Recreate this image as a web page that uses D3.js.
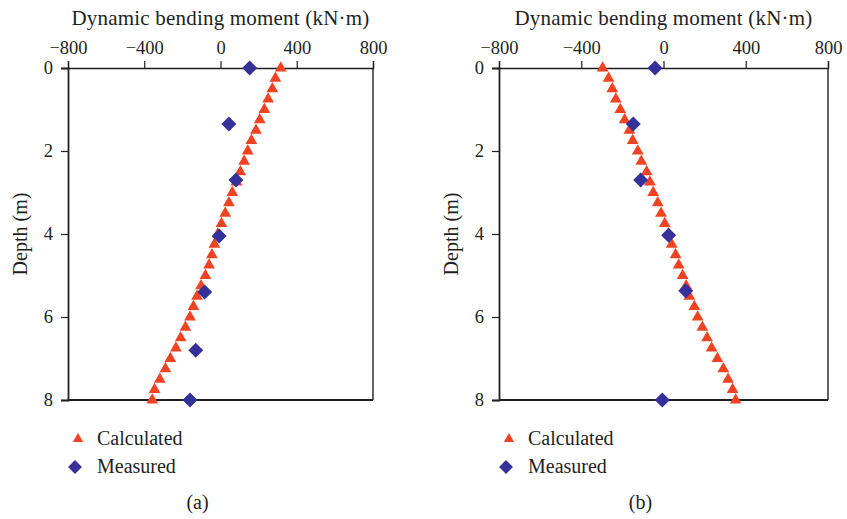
<!DOCTYPE html>
<html>
<head>
<meta charset="utf-8">
<script src="https://cdn.jsdelivr.net/npm/d3@7/dist/d3.min.js"></script>
<style>
  html, body { margin: 0; padding: 0; background: #fff; }
  svg text { font-family: "Liberation Serif", "Times New Roman", serif; fill: #231f20; }
</style>
</head>
<body>
<svg id="chart" width="847" height="519"></svg>
<script>
// Depth stations (m) of the calculated profile, every 0.25 m from 0 to 8
const calcDepth = [0, 0.25, 0.5, 0.75, 1, 1.25, 1.5, 1.75, 2, 2.25, 2.5, 2.75, 3, 3.25, 3.5, 3.75,
  4, 4.25, 4.5, 4.75, 5, 5.25, 5.5, 5.75, 6, 6.25, 6.5, 6.75, 7, 7.25, 7.5, 7.75, 8];

// Case (a): calculated and measured dynamic bending moment (kN·m)
const calcA = [316, 288, 272, 250, 230, 206, 186, 162, 143, 124, 104, 84, 62, 44, 25, 5,
  -14, -32, -45, -60, -79, -102, -123, -142, -160, -184, -209, -234, -263, -289, -318, -346, -358];
const measDepthA = [0, 1.35, 2.7, 4.05, 5.4, 6.8, 8];
const measA = [153, 44, 81, -7, -83, -130, -160];

// Case (b)
const calcB = [-296, -267, -249, -232, -210, -189, -166, -150, -125, -108, -82, -66, -50, -28, -12, 6,
  24, 40, 59, 74, 93, 110, 126, 150, 166, 189, 212, 234, 262, 291, 314, 336, 351];
const measDepthB = [0, 1.35, 2.7, 4.03, 5.37, 8];
const measB = [-41, -147, -111, 25, 108, -6];

const momentTicks = [-800, -400, 0, 400, 800];
const depthTicks = [0, 2, 4, 6, 8];
const panelLabels = ["(a)", "(b)"];
const seriesNames = ["Calculated", "Measured"];

const triColor = "#f04323";
const diaColor = "#35309a";
const axisColor = "#231f20";

const svg = d3.select("#chart");

const panels = [
  { x0: 68, x1: 373, calc: calcA, mDepth: measDepthA, meas: measA, label: panelLabels[0] },
  { x0: 499, x1: 828, calc: calcB, mDepth: measDepthB, meas: measB, label: panelLabels[1] }
];
const yTop = 68, yBot = 400;

const tri = d3.symbol().type(d3.symbolTriangle).size(60);
const triLegend = d3.symbol().type(d3.symbolTriangle).size(46);
const dia = d3.symbol().type(d3.symbolSquare).size(112);
const diaLegend = d3.symbol().type(d3.symbolSquare).size(96);

panels.forEach(p => {
  const x = d3.scaleLinear().domain([-800, 800]).range([p.x0, p.x1]);
  const y = d3.scaleLinear().domain([0, 8]).range([yTop, yBot]);
  const g = svg.append("g");

  // frame: right and bottom edges
  g.append("line").attr("x1", p.x1).attr("x2", p.x1).attr("y1", yTop).attr("y2", yBot)
    .attr("stroke", axisColor).attr("stroke-width", 1.4);
  g.append("line").attr("x1", p.x0).attr("x2", p.x1).attr("y1", yBot).attr("y2", yBot)
    .attr("stroke", axisColor).attr("stroke-width", 1.8);

  // top axis
  const top = g.append("g").attr("transform", `translate(0,${yTop})`)
    .call(d3.axisTop(x).tickValues(momentTicks).tickSize(7).tickPadding(7)
      .tickFormat(d => d < 0 ? "\u2212" + Math.abs(d) : d));
  top.select(".domain").attr("stroke", axisColor).attr("stroke-width", 1.4);
  top.selectAll(".tick line").attr("stroke", axisColor).attr("stroke-width", 1.2);
  top.selectAll(".tick text").style("font-size", "18.5px").style("font-family", "Liberation Serif").attr("fill", axisColor);

  // left axis
  const left = g.append("g").attr("transform", `translate(${p.x0},0)`)
    .call(d3.axisLeft(y).tickValues(depthTicks).tickSize(7).tickPadding(8));
  left.select(".domain").attr("stroke", axisColor).attr("stroke-width", 1.8);
  left.selectAll(".tick line").attr("stroke", axisColor).attr("stroke-width", 1.2);
  left.selectAll(".tick text").style("font-size", "18.5px").style("font-family", "Liberation Serif").attr("fill", axisColor);

  // axis titles
  g.append("text").attr("x", (p.x0 + p.x1) / 2).attr("y", 25).attr("text-anchor", "middle")
    .style("font-size", "21px").style("letter-spacing", "0.2px").text("Dynamic bending moment (kN\u00b7m)");
  g.append("text").attr("transform", `translate(${p.x0 - 41},${(yTop + yBot) / 2}) rotate(-90)`)
    .attr("text-anchor", "middle").style("font-size", "20px").text("Depth (m)");

  // calculated profile
  g.selectAll("path.calc").data(p.calc).enter().append("path").attr("class", "calc")
    .attr("d", tri).attr("fill", triColor)
    .attr("transform", (d, i) => `translate(${x(d)},${y(calcDepth[i])})`);

  // measured points
  g.selectAll("path.meas").data(p.meas).enter().append("path").attr("class", "meas")
    .attr("d", dia).attr("fill", diaColor)
    .attr("transform", (d, i) => `translate(${x(d)},${y(p.mDepth[i])}) rotate(45)`);

  // legend
  const lx = p.x0 + 10;
  g.append("path").attr("d", triLegend).attr("fill", triColor)
    .attr("transform", `translate(${lx},439)`);
  g.append("text").attr("x", lx + 19).attr("y", 445).style("font-size", "20px").text(seriesNames[0]);
  g.append("path").attr("d", diaLegend).attr("fill", diaColor)
    .attr("transform", `translate(${lx - 3},467) rotate(45)`);
  g.append("text").attr("x", lx + 19).attr("y", 473).style("font-size", "20px").text(seriesNames[1]);

  // panel label
  g.append("text").attr("x", (p.x0 + p.x1) / 2 - 23).attr("y", 509).attr("text-anchor", "middle")
    .style("font-size", "20px").text(p.label);
});
</script>
</body>
</html>
